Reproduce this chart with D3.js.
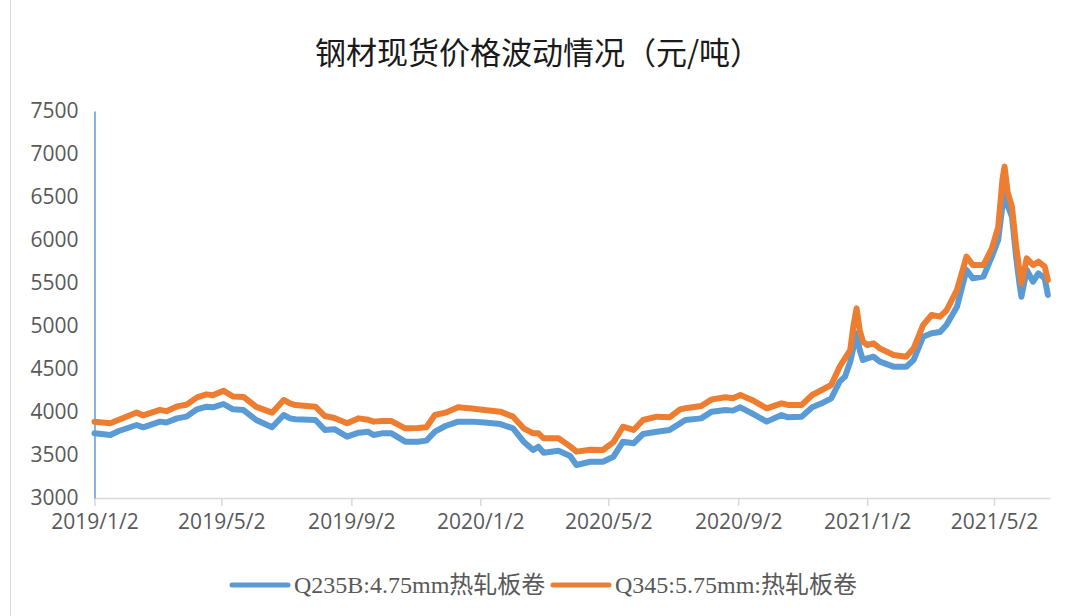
<!DOCTYPE html>
<html>
<head>
<meta charset="utf-8">
<script src="https://cdn.jsdelivr.net/npm/d3@7"></script>
<style>
  html, body { margin: 0; padding: 0; background: #fff; }
</style>
</head>
<body>
<div id="chart"></div>
<script>
// chart data
const dates = [
  "2019-01-02","2019-01-17","2019-01-25","2019-02-11","2019-02-17","2019-03-05","2019-03-11","2019-03-21",
  "2019-03-30","2019-04-09","2019-04-18","2019-04-24","2019-05-04","2019-05-13","2019-05-23","2019-06-04",
  "2019-06-19","2019-06-30","2019-07-06","2019-07-11","2019-07-30","2019-08-08","2019-08-17","2019-08-29",
  "2019-09-09","2019-09-18","2019-09-23","2019-10-01","2019-10-10","2019-10-23","2019-11-04","2019-11-12",
  "2019-11-20","2019-11-30","2019-12-12","2019-12-25","2020-01-06","2020-01-21","2020-02-02","2020-02-12",
  "2020-02-21","2020-02-26","2020-03-02","2020-03-16","2020-03-27","2020-04-02","2020-04-15","2020-04-27",
  "2020-05-07","2020-05-16","2020-05-26","2020-06-04","2020-06-17","2020-06-29","2020-07-09","2020-07-14",
  "2020-07-29","2020-08-08","2020-08-21","2020-08-28","2020-09-04","2020-09-15","2020-09-29","2020-10-13",
  "2020-10-19","2020-11-01","2020-11-11","2020-11-20","2020-11-29","2020-12-07","2020-12-12","2020-12-17",
  "2020-12-20","2020-12-23","2020-12-26","2020-12-29","2021-01-02","2021-01-08","2021-01-14","2021-01-27",
  "2021-02-08","2021-02-15","2021-02-24","2021-03-04","2021-03-12","2021-03-18","2021-03-28","2021-04-06",
  "2021-04-12","2021-04-22","2021-04-30","2021-05-06","2021-05-10","2021-05-12","2021-05-15","2021-05-19",
  "2021-05-23","2021-05-26","2021-05-28","2021-06-02","2021-06-08","2021-06-13","2021-06-19","2021-06-22"
];
const q235b = [
  3752,3733,3779,3849,3822,3888,3877,3926,
  3946,4031,4062,4054,4093,4031,4023,3907,
  3822,3965,3926,3915,3907,3791,3800,3713,
  3760,3771,3733,3752,3752,3655,3655,3667,
  3771,3837,3888,3888,3877,3860,3810,3655,
  3558,3597,3527,3550,3488,3384,3422,3422,
  3480,3655,3636,3744,3771,3791,3868,3907,
  3926,4004,4023,4016,4054,3984,3888,3965,
  3938,3946,4054,4101,4159,4353,4411,4585,
  4750,4915,4721,4605,4624,4643,4585,4527,
  4527,4605,4876,4915,4930,5012,5225,5651,
  5554,5574,5806,6000,6400,6650,6400,6271,
  5800,5500,5341,5651,5515,5612,5554,5360
];
const q345 = [
  3887,3870,3910,3995,3960,4025,4010,4065,
  4085,4170,4205,4195,4248,4180,4175,4060,
  3992,4140,4100,4081,4062,3953,3930,3868,
  3926,3910,3888,3895,3895,3810,3815,3822,
  3965,3992,4054,4040,4023,4004,3946,3810,
  3752,3752,3694,3694,3600,3539,3560,3558,
  3650,3829,3791,3907,3946,3938,4031,4043,
  4070,4147,4171,4160,4198,4140,4043,4101,
  4082,4082,4198,4256,4314,4527,4624,4721,
  5000,5205,4950,4820,4779,4798,4740,4663,
  4643,4740,5012,5128,5109,5180,5420,5806,
  5709,5709,5903,6150,6700,6853,6550,6388,
  5922,5650,5496,5787,5709,5748,5690,5535
];
const seriesNames = ["Q235B:4.75mm热轧板卷", "Q345:5.75mm:热轧板卷"];
const xTickDates = ["2019-01-02","2019-05-02","2019-09-02","2020-01-02","2020-05-02","2020-09-02","2021-01-02","2021-05-02"];
const yTicks = [3000,3500,4000,4500,5000,5500,6000,6500,7000,7500];

const width = 1073, height = 616;
const parse = d3.timeParse("%Y-%m-%d");
const fmt = d3.timeFormat("%Y/%-m/%-d");
const colors = ["#5b9bd5", "#ed7d31"];

const svg = d3.select("#chart").append("svg")
  .attr("width", width)
  .attr("height", height);

// faint chart frame on the left
svg.append("line")
  .attr("x1", 10.5).attr("x2", 10.5).attr("y1", 0).attr("y2", height)
  .attr("stroke", "#d9d9d9").attr("stroke-width", 1);

const x = d3.scaleTime()
  .domain([parse("2019-01-02"), parse("2021-06-24")])
  .range([94.5, 1050]);
const y = d3.scaleLinear().domain([3000, 7500]).range([498, 111]);

// x axis
const xAxis = svg.append("g")
  .attr("transform", "translate(0,498)")
  .call(d3.axisBottom(x).tickValues(xTickDates.map(parse)).tickFormat(fmt).tickSizeInner(8).tickSizeOuter(0).tickPadding(8));
xAxis.select(".domain").attr("stroke", "#d9d9d9").attr("stroke-width", 1.5);
xAxis.selectAll(".tick line").attr("stroke", "#d9d9d9").attr("stroke-width", 1.5);
xAxis.selectAll(".tick text")
  .attr("fill", "#595959")
  .style("font-family", "'Open Sans', sans-serif")
  .style("font-size", "21px");

// y axis
const yAxis = svg.append("g")
  .attr("transform", "translate(94.5,0)")
  .call(d3.axisLeft(y).tickValues(yTicks).tickFormat(d3.format("d")).tickSize(0).tickPadding(16));
yAxis.select(".domain").attr("stroke", "#5b9bd5").attr("stroke-width", 1.5);
yAxis.selectAll(".tick text")
  .attr("fill", "#595959")
  .style("font-family", "'Open Sans', sans-serif")
  .style("font-size", "21px");

// lines
const rows = dates.map((d, i) => ({ date: parse(d), v: [q235b[i], q345[i]] }));
[0, 1].forEach(k => {
  svg.append("path")
    .datum(rows)
    .attr("fill", "none")
    .attr("stroke", colors[k])
    .attr("stroke-width", 6)
    .attr("stroke-linejoin", "round")
    .attr("stroke-linecap", "round")
    .attr("d", d3.line().x(d => x(d.date)).y(d => y(d.v[k])));
});

// title
svg.append("text")
  .attr("x", 538)
  .attr("y", 64)
  .attr("text-anchor", "middle")
  .attr("fill", "#1a1a1a")
  .style("font-family", "'Noto Sans CJK SC', sans-serif")
  .style("font-size", "31px")
  .text("钢材现货价格波动情况（元/吨）");

// legend
const legend = [
  { x1: 232, x2: 288, tx: 294 },
  { x1: 553, x2: 609, tx: 615 }
];
legend.forEach((l, k) => {
  svg.append("line")
    .attr("x1", l.x1).attr("x2", l.x2).attr("y1", 585).attr("y2", 585)
    .attr("stroke", colors[k]).attr("stroke-width", 5).attr("stroke-linecap", "round");
  svg.append("text")
    .attr("x", l.tx)
    .attr("y", 593)
    .attr("fill", "#595959")
    .style("font-family", "'Liberation Serif', 'Noto Sans CJK SC', serif")
    .style("font-size", "24px")
    .text(seriesNames[k]);
});
</script>
</body>
</html>
